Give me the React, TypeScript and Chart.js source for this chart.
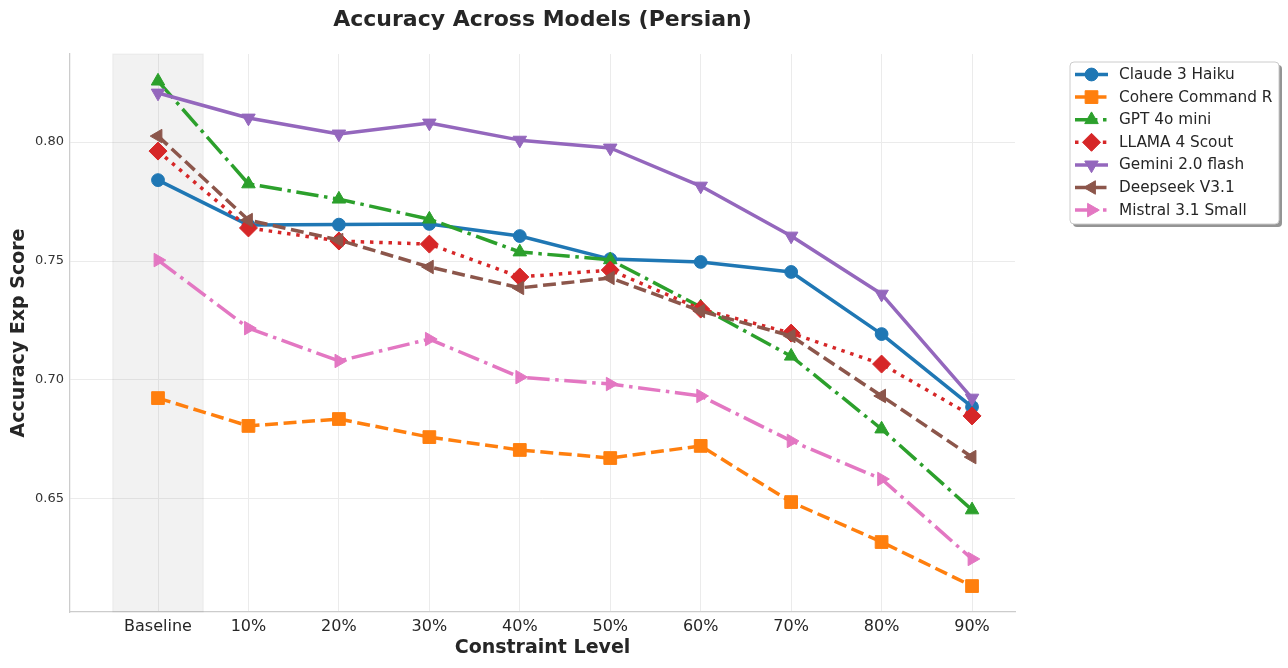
import React, { useEffect, useRef } from 'react';
import { Chart, registerables } from 'chart.js';

Chart.register(...registerables);

const categories = ['Baseline', '10%', '20%', '30%', '40%', '50%', '60%', '70%', '80%', '90%'];
const yTickValues = [0.65, 0.7, 0.75, 0.8];

const claude = [0.784, 0.7651, 0.7653, 0.7656, 0.7605, 0.7508, 0.7496, 0.7454, 0.7193, 0.6887];
const cohere = [0.6924, 0.6807, 0.6836, 0.676, 0.6706, 0.6672, 0.6723, 0.6487, 0.6319, 0.6134];
const gpt = [0.8256, 0.7824, 0.776, 0.7676, 0.7538, 0.7505, 0.7307, 0.71, 0.6794, 0.6454];
const llama = [0.7962, 0.7639, 0.7584, 0.7571, 0.7433, 0.7462, 0.7298, 0.7197, 0.7067, 0.6849];
const gemini = [0.8206, 0.8101, 0.8034, 0.808, 0.8008, 0.7975, 0.7815, 0.7605, 0.7361, 0.6924];
const deepseek = [0.8025, 0.7672, 0.7588, 0.7475, 0.7387, 0.7429, 0.729, 0.7185, 0.6933, 0.6676];
const mistral = [0.7504, 0.7218, 0.708, 0.7172, 0.7012, 0.6983, 0.6933, 0.6744, 0.6584, 0.6248];

const seriesNames = ['Claude 3 Haiku', 'Cohere Command R', 'GPT 4o mini', 'LLAMA 4 Scout', 'Gemini 2.0 flash', 'Deepseek V3.1', 'Mistral 3.1 Small'];
const seriesValues = [claude, cohere, gpt, llama, gemini, deepseek, mistral];

const LW = 3.5;
const SOLID: number[] = [];
const DASHED = [3.7 * LW, 1.6 * LW];
const DASHDOT = [6.4 * LW, 1.6 * LW, 1 * LW, 1.6 * LW];
const DOTTED = [1 * LW, 1.65 * LW];

const styles = [
  { color: '#1f77b4', dash: SOLID, shape: 'circle', rot: 0, r: 6.4 },
  { color: '#ff7f0e', dash: DASHED, shape: 'rect', rot: 0, r: 9 },
  { color: '#2ca02c', dash: DASHDOT, shape: 'triangle', rot: 0, r: 7.8 },
  { color: '#d62728', dash: DOTTED, shape: 'rectRot', rot: 0, r: 9 },
  { color: '#9467bd', dash: SOLID, shape: 'triangle', rot: 180, r: 7.8 },
  { color: '#8c564b', dash: DASHED, shape: 'triangle', rot: 270, r: 7.8 },
  { color: '#e377c2', dash: DASHDOT, shape: 'triangle', rot: 90, r: 7.8 },
];

const FONT = '"DejaVu Sans", "Liberation Sans", sans-serif';
const TEXT = '#262626';

function drawMarker(ctx: CanvasRenderingContext2D, shape: string, rot: number, r: number, x: number, y: number, color: string) {
  ctx.save();
  ctx.translate(x, y);
  ctx.beginPath();
  if (shape === 'circle') {
    ctx.arc(0, 0, r, 0, Math.PI * 2);
  } else if (shape === 'rect') {
    const s = r * Math.SQRT1_2;
    ctx.rect(-s, -s, 2 * s, 2 * s);
  } else if (shape === 'rectRot') {
    ctx.moveTo(0, -r);
    ctx.lineTo(r, 0);
    ctx.lineTo(0, r);
    ctx.lineTo(-r, 0);
    ctx.closePath();
  } else {
    let a = (rot * Math.PI) / 180;
    ctx.moveTo(Math.sin(a) * r, -Math.cos(a) * r);
    a += (2 * Math.PI) / 3;
    ctx.lineTo(Math.sin(a) * r, -Math.cos(a) * r);
    a += (2 * Math.PI) / 3;
    ctx.lineTo(Math.sin(a) * r, -Math.cos(a) * r);
    ctx.closePath();
  }
  ctx.fillStyle = color;
  ctx.fill();
  ctx.lineWidth = 1;
  ctx.strokeStyle = color;
  ctx.stroke();
  ctx.restore();
}

function roundRectPath(ctx: CanvasRenderingContext2D, x: number, y: number, w: number, h: number, r: number) {
  ctx.beginPath();
  ctx.moveTo(x + r, y);
  ctx.lineTo(x + w - r, y);
  ctx.arcTo(x + w, y, x + w, y + r, r);
  ctx.lineTo(x + w, y + h - r);
  ctx.arcTo(x + w, y + h, x + w - r, y + h, r);
  ctx.lineTo(x + r, y + h);
  ctx.arcTo(x, y + h, x, y + h - r, r);
  ctx.lineTo(x, y + r);
  ctx.arcTo(x, y, x + r, y, r);
  ctx.closePath();
}

const decorPlugin = {
  id: 'decor',
  beforeDatasetsDraw(chart: any) {
    const { ctx, chartArea, scales } = chart;
    const x1 = scales.x.getPixelForValue(-0.5);
    const x2 = scales.x.getPixelForValue(0.5);
    ctx.save();
    ctx.fillStyle = 'rgba(128,128,128,0.1)';
    ctx.fillRect(x1, chartArea.top, x2 - x1, chartArea.bottom - chartArea.top);
    ctx.strokeStyle = 'rgba(128,128,128,0.1)';
    ctx.lineWidth = 1;
    ctx.strokeRect(x1, chartArea.top, x2 - x1, chartArea.bottom - chartArea.top);
    ctx.restore();
  },
  afterDraw(chart: any) {
    const { ctx, chartArea } = chart;
    ctx.save();
    ctx.fillStyle = TEXT;
    ctx.textAlign = 'center';
    ctx.textBaseline = 'middle';
    ctx.font = `bold 22px ${FONT}`;
    ctx.fillText('Accuracy Across Models (Persian)', (chartArea.left + chartArea.right) / 2, 20);
    ctx.font = `bold 19px ${FONT}`;
    ctx.fillText('Constraint Level', (chartArea.left + chartArea.right) / 2, 648);
    ctx.save();
    ctx.translate(19, (chartArea.top + chartArea.bottom) / 2);
    ctx.rotate(-Math.PI / 2);
    ctx.fillText('Accuracy Exp Score', 0, 0);
    ctx.restore();

    const lx = chartArea.right + 55;
    const ly = 62;
    const lw = 209;
    const lh = 162;
    ctx.fillStyle = 'rgba(60,60,60,0.55)';
    roundRectPath(ctx, lx + 3, ly + 3, lw, lh, 4);
    ctx.fill();
    ctx.fillStyle = '#ffffff';
    roundRectPath(ctx, lx, ly, lw, lh, 4);
    ctx.fill();
    ctx.strokeStyle = '#cccccc';
    ctx.lineWidth = 1;
    ctx.stroke();
    seriesNames.forEach((name, i) => {
      const s = styles[i];
      const y = ly + 12.5 + i * 22.6;
      ctx.save();
      ctx.strokeStyle = s.color;
      ctx.lineWidth = LW;
      ctx.lineCap = 'butt';
      ctx.setLineDash(s.dash);
      ctx.beginPath();
      ctx.moveTo(lx + 5, y);
      ctx.lineTo(lx + 38, y);
      ctx.stroke();
      ctx.restore();
      drawMarker(ctx, s.shape, s.rot, s.r, lx + 21.5, y, s.color);
      ctx.fillStyle = TEXT;
      ctx.textAlign = 'left';
      ctx.textBaseline = 'middle';
      ctx.font = `15.3px ${FONT}`;
      ctx.fillText(name, lx + 49, y + 0.5);
    });
    ctx.restore();
  },
};

export default function App() {
  const ref = useRef<HTMLCanvasElement | null>(null);
  useEffect(() => {
    if (!ref.current) return;
    const datasets = seriesNames.map((name, i) => {
      const s = styles[i];
      return {
        label: name,
        data: seriesValues[i].map((v, j) => ({ x: j, y: v })),
        borderColor: s.color,
        backgroundColor: s.color,
        borderWidth: LW,
        borderDash: s.dash,
        borderJoinStyle: 'round' as const,
        pointStyle: s.shape,
        pointRotation: s.rot,
        pointRadius: s.r,
        pointHoverRadius: s.r,
        pointBorderWidth: 1,
        pointBorderColor: s.color,
        pointBackgroundColor: s.color,
        tension: 0,
        fill: false,
        order: seriesNames.length - i,
      };
    });
    const chart = new Chart(ref.current, {
      type: 'line',
      data: { datasets },
      options: {
        animation: false,
        responsive: false,
        devicePixelRatio: 1,
        layout: { padding: { top: 54, right: 273, left: 0, bottom: 0 } },
        plugins: { legend: { display: false }, title: { display: false }, tooltip: { enabled: false } },
        scales: {
          x: {
            type: 'linear',
            min: -0.973,
            max: 9.475,
            afterBuildTicks: (s: any) => {
              s.ticks = categories.map((_, i) => ({ value: i }));
            },
            afterFit: (s: any) => {
              s.height = 56;
            },
            ticks: {
              autoSkip: false,
              maxRotation: 0,
              padding: 5,
              color: TEXT,
              font: { family: FONT, size: 16 },
              callback: (v: any) => categories[v as number],
            },
            grid: { color: '#ebebeb', lineWidth: 1, drawTicks: false },
            border: { display: true, color: '#cccccc', width: 1.25 },
          },
          y: {
            type: 'linear',
            min: 0.6025,
            max: 0.837,
            afterBuildTicks: (s: any) => {
              s.ticks = yTickValues.map((v) => ({ value: v }));
            },
            afterFit: (s: any) => {
              s.width = 70;
            },
            ticks: {
              padding: 6,
              color: '#333333',
              font: { family: FONT, size: 13 },
              callback: (v: any) => Number(v).toFixed(2),
            },
            grid: { color: '#ebebeb', lineWidth: 1, drawTicks: false },
            border: { display: true, color: '#cccccc', width: 1.25 },
          },
        },
      },
      plugins: [decorPlugin],
    } as any);
    return () => chart.destroy();
  }, []);
  return (
    <div style={{ position: 'fixed', left: 0, top: 0, width: 1288, height: 668, background: '#ffffff' }}>
      <canvas ref={ref} width={1288} height={668} style={{ width: 1288, height: 668, display: 'block' }} />
    </div>
  );
}
